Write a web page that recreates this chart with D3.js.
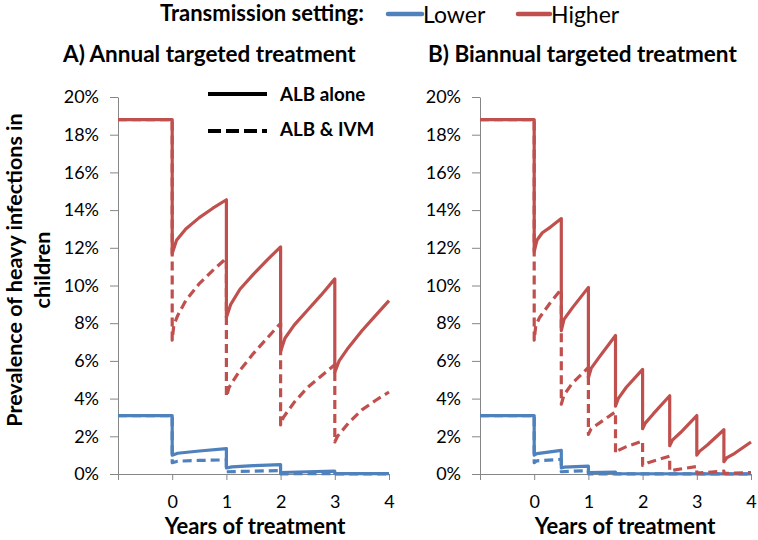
<!DOCTYPE html>
<html>
<head>
<meta charset="utf-8">
<script src="https://cdn.jsdelivr.net/npm/d3@7"></script>
<style>
  body { margin: 0; background: #fff; }
  svg { display: block; font-family: Lato, "Open Sans", sans-serif; }
</style>
</head>
<body>
<svg id="chart" width="758" height="540"></svg>
<script>
// ---- Data (years of treatment, prevalence %) ----
const xTicks = [-1, 0, 1, 2, 3, 4];
const xTickLabels = ["", "0", "1", "2", "3", "4"];
const yTicks = [0, 2, 4, 6, 8, 10, 12, 14, 16, 18, 20];

const annualHigherAlb = [[-1,18.8],[0,18.8],[0,11.7],[0.08,12.4],[0.25,13.0],[0.5,13.6],[0.75,14.1],[1,14.55],
  [1,8.3],[1.08,9.0],[1.25,9.8],[1.5,10.6],[1.75,11.35],[2,12.05],
  [2,6.5],[2.08,7.2],[2.25,7.9],[2.5,8.7],[2.75,9.5],[3,10.35],
  [3,5.4],[3.08,6.0],[3.25,6.7],[3.5,7.6],[3.75,8.4],[4,9.2]];
const annualHigherIvm = [[-1,18.8],[0,18.8],[0,7.1],[0.03,7.9],[0.1,8.4],[0.25,9.2],[0.5,10.1],[0.75,10.8],[1,11.45],
  [1,4.1],[1.05,4.6],[1.25,5.5],[1.5,6.4],[1.75,7.2],[2,8.0],
  [2,2.6],[2.05,3.0],[2.25,3.8],[2.5,4.6],[2.75,5.2],[3,5.8],
  [3,1.7],[3.05,2.0],[3.25,2.7],[3.5,3.4],[3.75,3.9],[4,4.35]];
const annualLowerAlb = [[-1,3.1],[0,3.1],[0,1.0],[0.1,1.1],[0.5,1.22],[1,1.35],
  [1,0.32],[1.1,0.38],[1.5,0.44],[2,0.5],[2,0.08],[2.5,0.12],[3,0.15],[3,0.02],[4,0.02]];
const annualLowerIvm = [[-1,3.1],[0,3.1],[0,0.6],[0.1,0.68],[0.5,0.72],[1,0.75],
  [1,0.12],[1.5,0.15],[2,0.18],[2,0.01],[3,0.02],[3,0.0],[4,0.0]];

const biannualHigherAlb = [[-1,18.8],[0,18.8],[0,11.8],[0.05,12.4],[0.15,12.8],[0.3,13.1],[0.5,13.55],
  [0.5,7.6],[0.55,8.2],[0.7,8.8],[1,9.9],
  [1,5.1],[1.05,5.6],[1.2,6.2],[1.5,7.35],
  [1.5,3.6],[1.55,4.0],[1.7,4.6],[2,5.55],
  [2,2.4],[2.05,2.7],[2.2,3.2],[2.5,4.15],
  [2.5,1.5],[2.55,1.8],[2.7,2.2],[3,3.1],
  [3,1.0],[3.05,1.2],[3.2,1.55],[3.5,2.35],
  [3.5,0.65],[3.55,0.85],[3.7,1.1],[4,1.7]];
const biannualHigherIvm = [[-1,18.8],[0,18.8],[0,7.1],[0.03,7.9],[0.1,8.3],[0.3,9.1],[0.5,9.8],
  [0.5,3.7],[0.55,4.2],[0.7,4.8],[1,5.65],
  [1,2.1],[1.05,2.4],[1.2,2.7],[1.5,3.3],
  [1.5,1.1],[1.55,1.25],[1.7,1.45],[2,1.75],
  [2,0.45],[2.1,0.6],[2.5,0.95],
  [2.5,0.15],[2.6,0.22],[3,0.4],
  [3,0.05],[3.5,0.15],[3.5,0.03],[4,0.08]];
const biannualLowerAlb = [[-1,3.1],[0,3.1],[0,1.0],[0.05,1.08],[0.5,1.25],
  [0.5,0.32],[0.55,0.36],[1,0.42],[1,0.07],[1.5,0.1],[1.5,0.02],[4,0.01]];
const biannualLowerIvm = [[-1,3.1],[0,3.1],[0,0.6],[0.05,0.7],[0.5,0.78],
  [0.5,0.12],[1,0.18],[1,0.01],[4,0.0]];

const panelTitles = ["A) Annual targeted treatment", "B) Biannual targeted treatment"];
const settingNames = ["Lower", "Higher"];
const treatmentNames = ["ALB alone", "ALB & IVM"];

// ---- Styling ----
const BLUE = "#4F81BD", RED = "#C0504D", AXIS = "#868686";
const svg = d3.select("#chart");

const y = d3.scaleLinear().domain([0, 20]).range([474, 97]);

const panels = [
  { left: 118, right: 389, title: panelTitles[0], titleX: 63, axTitleX: 255,
    series: [
      { d: annualLowerIvm, c: BLUE, dash: true }, { d: annualLowerAlb, c: BLUE, dash: false },
      { d: annualHigherIvm, c: RED, dash: true }, { d: annualHigherAlb, c: RED, dash: false } ] },
  { left: 480, right: 751, title: panelTitles[1], titleX: 428, axTitleX: 625,
    series: [
      { d: biannualLowerIvm, c: BLUE, dash: true }, { d: biannualLowerAlb, c: BLUE, dash: false },
      { d: biannualHigherIvm, c: RED, dash: true }, { d: biannualHigherAlb, c: RED, dash: false } ] }
];

panels.forEach(p => {
  const x = d3.scaleLinear().domain([-1, 4]).range([p.left, p.right]);
  const g = svg.append("g");

  // y axis
  const yAxis = d3.axisLeft(y).tickValues(yTicks).tickFormat(d => d + "%").tickSize(8).tickSizeOuter(0);
  const ya = g.append("g").attr("transform", `translate(${p.left},0)`).call(yAxis);
  ya.select(".domain").attr("stroke", AXIS);
  ya.selectAll(".tick line").attr("stroke", AXIS);
  ya.selectAll(".tick text").attr("x", -19).attr("fill", "#000")
    .style("font-size", "18px").style("font-family", "Lato");

  // x axis
  const xAxis = d3.axisBottom(x).tickValues(xTicks).tickFormat((d, i) => xTickLabels[i]).tickSize(6).tickSizeOuter(0);
  const xa = g.append("g").attr("transform", `translate(0,${y(0)})`).call(xAxis);
  xa.select(".domain").attr("stroke", AXIS);
  xa.selectAll(".tick line").attr("stroke", AXIS);
  xa.selectAll(".tick text").attr("y", 21).attr("dy", "0.71em").attr("fill", "#000")
    .style("font-size", "18px").style("font-family", "Lato");

  // lines
  const line = d3.line().x(d => x(d[0])).y(d => y(d[1]));
  p.series.forEach(s => {
    g.append("path").attr("d", line(s.d)).attr("fill", "none")
      .attr("stroke", s.c).attr("stroke-width", 3.2)
      .attr("stroke-linejoin", "round")
      .attr("stroke-dasharray", s.dash ? "9,5" : null);
  });

  // titles
  g.append("text").attr("x", p.titleX).attr("y", 62).text(p.title)
    .style("font-weight", "bold").style("font-size", "22.5px");
  g.append("text").attr("x", p.axTitleX).attr("y", 534).attr("text-anchor", "middle").text("Years of treatment")
    .style("font-weight", "bold").style("font-size", "22px");
});

// y axis title
const yt = svg.append("text").attr("transform", "translate(22,270) rotate(-90)")
  .attr("text-anchor", "middle").style("font-weight", "bold").style("font-size", "21.5px");
yt.append("tspan").attr("x", 0).attr("y", 0).text("Prevalence of heavy infections in");
yt.append("tspan").attr("x", 0).attr("y", 28).text("children");

// top legend
svg.append("text").attr("x", 160).attr("y", 21).text("Transmission setting:")
  .style("font-weight", "bold").style("font-size", "22px");
const topLeg = [{ x1: 388, x2: 422, c: BLUE, name: settingNames[0] }, { x1: 518, x2: 550, c: RED, name: settingNames[1] }];
topLeg.forEach(l => {
  svg.append("line").attr("x1", l.x1).attr("x2", l.x2).attr("y1", 14).attr("y2", 14)
    .attr("stroke", l.c).attr("stroke-width", 4.5).attr("stroke-linecap", "round");
  svg.append("text").attr("x", l.x2 + 1).attr("y", 23).text(l.name).style("font-size", "23px");
});

// line-style legend
const styleLeg = [{ y: 94, ty: 101, dash: null, name: treatmentNames[0] }, { y: 131, ty: 136, dash: "13,5", name: treatmentNames[1] }];
styleLeg.forEach(l => {
  svg.append("line").attr("x1", 208).attr("x2", 267).attr("y1", l.y).attr("y2", l.y)
    .attr("stroke", "#000").attr("stroke-width", 4).attr("stroke-dasharray", l.dash);
  svg.append("text").attr("x", 280).attr("y", l.ty).text(l.name)
    .style("font-weight", "bold").style("font-size", "18.8px");
});
</script>
</body>
</html>
